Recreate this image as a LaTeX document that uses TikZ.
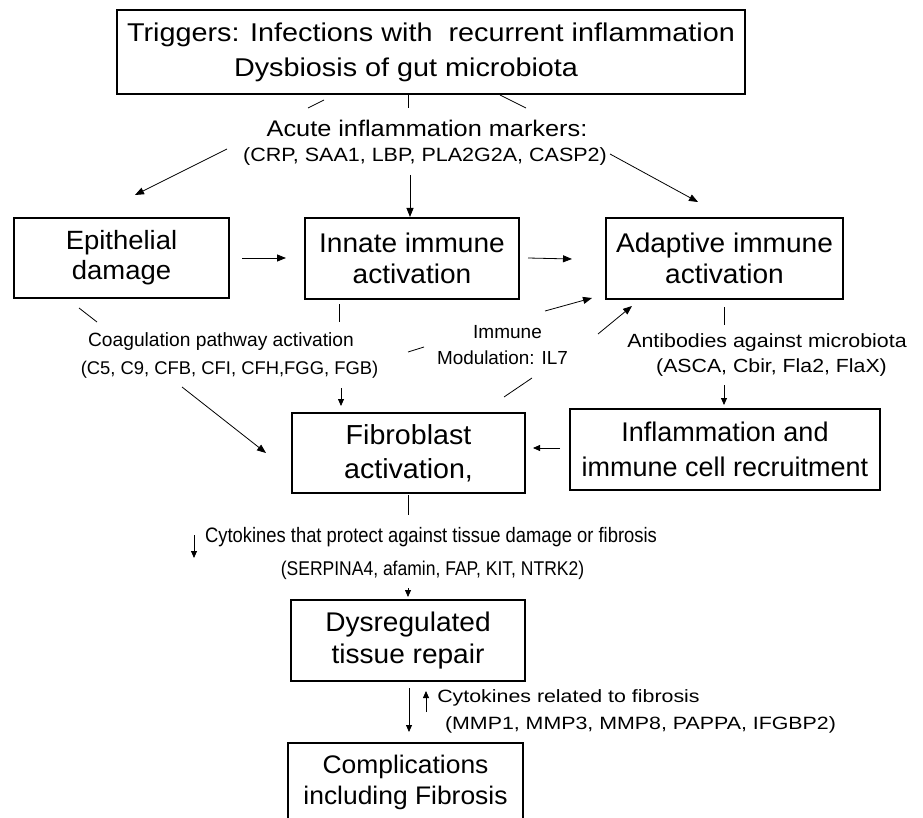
\documentclass[tikz,border=0pt]{standalone}
\usepackage{fontspec}
\setmainfont{Liberation Sans}
\newfontfamily\sNar{Liberation Sans}[FakeStretch=0.88]
\newfontfamily\sNorm{Liberation Sans}
\newfontfamily\sMid{Liberation Sans}[FakeStretch=1.04]
\newfontfamily\sWide{Liberation Sans}[FakeStretch=1.12]
\newfontfamily\sWider{Liberation Sans}[FakeStretch=1.2]
\usetikzlibrary{arrows.meta}
\newcommand\fsz[2]{\fontsize{#1}{#2}\selectfont}
\begin{document}
\begin{tikzpicture}[x=1pt,y=-1pt,
  box/.style={draw, line width=1.4pt, inner sep=0pt, align=center},
  lbl/.style={inner sep=0pt, anchor=center},
  conn/.style={line width=0.8pt},
  arr/.style={conn,-{Triangle[length=9pt,width=7pt]}},
  sarr/.style={conn,-{Triangle[length=7pt,width=6pt]}}]
\useasboundingbox (0,0) rectangle (923,818);
\clip (0,0) rectangle (923,818);

% boxes
\node[box, minimum width=628pt, minimum height=84pt, font=\sWide\fsz{25.7}{35}] (top) at (431,52)
  {Triggers: Infections with\ \ recurrent inflammation\\Dysbiosis of gut microbiota\hspace*{50pt}};
\node[box, minimum width=215pt, minimum height=80pt, font=\sMid\fsz{26.4}{30}] (epi) at (121.5,258) {Epithelial\\damage};
\node[box, minimum width=214pt, minimum height=81pt, font=\sMid\fsz{27}{31}] (inn) at (412,258.5) {Innate immune\\activation};
\node[box, minimum width=237pt, minimum height=81pt, font=\sMid\fsz{27}{31}] (ada) at (724.5,258.5) {Adaptive immune\\activation};
\node[box, minimum width=233pt, minimum height=80pt, font=\sMid\fsz{27.5}{34}] (fib) at (408.5,453) {Fibroblast\\activation,};
\node[box, minimum width=310pt, minimum height=81pt, font=\sNorm\fsz{27}{35}] (inf) at (725,449.5) {Inflammation and\\immune cell recruitment};
\node[box, minimum width=234pt, minimum height=81pt, font=\sMid\fsz{27}{32}] (dys) at (408,640.5) {Dysregulated\\tissue repair};
\node[box, minimum width=235pt, minimum height=79pt, font=\sMid\fsz{25.4}{31}] (com) at (405.5,782.5) {Complications\\including Fibrosis};

% labels
\node[lbl, font=\sWide\fsz{22.6}{26}] (acu) at (427,128) {Acute inflammation markers:};
\node[lbl, font=\sWide\fsz{19.2}{23}] (crp) at (425,157) {(CRP, SAA1, LBP, PLA2G2A, CASP2)};
\node[lbl, font=\sNorm\fsz{19.2}{23}] (coa) at (221,342) {Coagulation pathway activation};
\node[lbl, font=\sNorm\fsz{18.4}{22}] (c5) at (229.5,370) {(C5, C9, CFB, CFI, CFH,FGG, FGB)};
\node[lbl, font=\sNorm\fsz{19}{22}] (imm) at (507.5,332) {Immune};
\node[lbl, font=\sNorm\fsz{18.9}{22}] (mod) at (502.5,358) {Modulation: IL7};
\node[lbl, font=\sWide\fsz{19.1}{23}] (ant) at (767,343) {Antibodies against microbiota};
\node[lbl, font=\sWide\fsz{19}{23}] (asc) at (771.5,368) {(ASCA, Cbir, Fla2, FlaX)};
\node[lbl, font=\sNar\fsz{20.9}{24}] (cyp) at (431,537) {Cytokines that protect against tissue damage or fibrosis};
\node[lbl, font=\sNar\fsz{19.9}{24}] (ser) at (432.5,570) {(SERPINA4, afamin, FAP, KIT, NTRK2)};
\node[lbl, font=\sWider\fsz{17.8}{22}] (cyr) at (568.5,698) {Cytokines related to fibrosis};
\node[lbl, font=\sWider\fsz{17.8}{22}] (mmp) at (640.5,725) {(MMP1, MMP3, MMP8, PAPPA, IFGBP2)};

% connector end points
\coordinate (s1a) at (308,108); \coordinate (s1b) at (324,100);
\coordinate (v1a) at (408,95);  \coordinate (v1b) at (408,108);
\coordinate (b1a) at (500,95);  \coordinate (b1b) at (526,108);
\coordinate (a1a) at (227,149); \coordinate (a1b) at (135,195);
\coordinate (a2a) at (410,175); \coordinate (a2b) at (410,217);
\coordinate (a3a) at (610,154); \coordinate (a3b) at (698,202);
\coordinate (h1a) at (242,258); \coordinate (h1b) at (286,258);
\coordinate (h2a) at (528,258); \coordinate (h2b) at (572,259);
\coordinate (e1a) at (79,308);  \coordinate (e1b) at (97,322);
\coordinate (i1a) at (339,304); \coordinate (i1b) at (339,322);
\coordinate (d1a) at (408,352); \coordinate (d1b) at (424,347);
\coordinate (m1a) at (545,311); \coordinate (m1b) at (592,298);
\coordinate (m2a) at (598,334); \coordinate (m2b) at (632,306);
\coordinate (f1a) at (504,397); \coordinate (f1b) at (532,378);
\coordinate (j1a) at (724,307); \coordinate (j1b) at (724,325);
\coordinate (j2a) at (724,385); \coordinate (j2b) at (724,405);
\coordinate (c1a) at (182,387); \coordinate (c1b) at (266,453);
\coordinate (c2a) at (341,388); \coordinate (c2b) at (341,406);
\coordinate (r1a) at (560,448); \coordinate (r1b) at (533,448);
\coordinate (g1a) at (408,495); \coordinate (g1b) at (408,515);
\coordinate (k1a) at (194,535); \coordinate (k1b) at (194,558);
\coordinate (k2a) at (408,588); \coordinate (k2b) at (408,597);
\coordinate (z1a) at (409,688); \coordinate (z1b) at (409,732);
\coordinate (z2a) at (426,712); \coordinate (z2b) at (426,691);

% connectors
\draw[conn] (s1a) -- (s1b);
\draw[conn] (v1a) -- (v1b);
\draw[conn] (b1a) -- (b1b);
\draw[arr] (a1a) -- (a1b);
\draw[arr] (a2a) -- (a2b);
\draw[arr] (a3a) -- (a3b);
\draw[arr] (h1a) -- (h1b);
\draw[arr] (h2a) -- (h2b);
\draw[conn] (e1a) -- (e1b);
\draw[conn] (i1a) -- (i1b);
\draw[conn] (d1a) -- (d1b);
\draw[arr] (m1a) -- (m1b);
\draw[arr] (m2a) -- (m2b);
\draw[conn] (f1a) -- (f1b);
\draw[conn] (j1a) -- (j1b);
\draw[sarr] (j2a) -- (j2b);
\draw[arr] (c1a) -- (c1b);
\draw[sarr] (c2a) -- (c2b);
\draw[sarr] (r1a) -- (r1b);
\draw[conn] (g1a) -- (g1b);
\draw[sarr] (k1a) -- (k1b);
\draw[sarr] (k2a) -- (k2b);
\draw[sarr] (z1a) -- (z1b);
\draw[sarr] (z2a) -- (z2b);
\end{tikzpicture}
\end{document}
